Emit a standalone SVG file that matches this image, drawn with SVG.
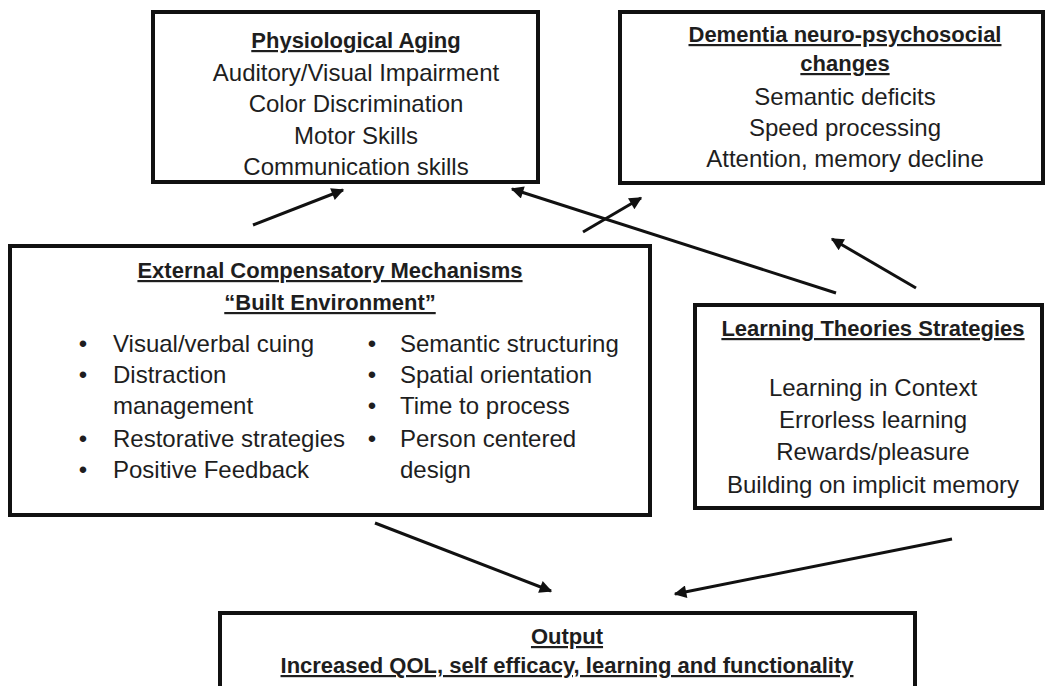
<svg xmlns="http://www.w3.org/2000/svg" width="1046" height="686" viewBox="0 0 1046 686">
<defs>
<style>
.box{fill:#fff;stroke:#111;stroke-width:4}
text{font-family:"Liberation Sans",Arial,sans-serif;font-size:24px;fill:#1e1e1e}
.c{text-anchor:middle}
.h{font-weight:bold;text-decoration:underline;font-size:22px}
.con{stroke:#111;stroke-width:3;fill:none;marker-end:url(#ah)}
</style>
<marker id="ah" viewBox="0 0 10 10" refX="9" refY="5" markerWidth="5" markerHeight="4.2" orient="auto" markerUnits="strokeWidth">
<path d="M0,0 L10,5 L0,10 z" fill="#111"/>
</marker>
</defs>
<rect width="1046" height="686" fill="#fff"/>
<g id="connectors">
<line class="con" x1="253" y1="225" x2="343" y2="190"/>
<line class="con" x1="583" y1="232" x2="641" y2="198"/>
<line class="con" x1="836" y1="293" x2="512" y2="189"/>
<line class="con" x1="916" y1="288" x2="832" y2="239"/>
<line class="con" x1="375" y1="523" x2="551" y2="591"/>
<line class="con" x1="952" y1="539" x2="675" y2="594"/>
</g>
<g id="physiological">
<rect class="box" x="153" y="12" width="385" height="170"/>
<text class="c h" x="356" y="48">Physiological Aging</text>
<text class="c" x="356" y="81">Auditory/Visual Impairment</text>
<text class="c" x="356" y="112">Color Discrimination</text>
<text class="c" x="356" y="144">Motor Skills</text>
<text class="c" x="356" y="175">Communication skills</text>
</g>
<g id="dementia">
<rect class="box" x="620" y="12" width="423" height="171"/>
<text class="c h" x="845" y="42">Dementia neuro-psychosocial</text>
<text class="c h" x="845" y="71">changes</text>
<text class="c" x="845" y="105">Semantic deficits</text>
<text class="c" x="845" y="136">Speed processing</text>
<text class="c" x="845" y="167">Attention, memory decline</text>
</g>
<g id="external">
<rect class="box" x="10" y="246" width="640" height="269"/>
<text class="c h" x="330" y="278">External Compensatory Mechanisms</text>
<text class="c h" x="330" y="310">“Built Environment”</text>
<text x="83" y="352" class="c">•</text><text x="113" y="352">Visual/verbal cuing</text>
<text x="83" y="383" class="c">•</text><text x="113" y="383">Distraction</text>
<text x="113" y="414">management</text>
<text x="83" y="447" class="c">•</text><text x="113" y="447">Restorative strategies</text>
<text x="83" y="478" class="c">•</text><text x="113" y="478">Positive Feedback</text>
<text x="372" y="352" class="c">•</text><text x="400" y="352">Semantic structuring</text>
<text x="372" y="383" class="c">•</text><text x="400" y="383">Spatial orientation</text>
<text x="372" y="414" class="c">•</text><text x="400" y="414">Time to process</text>
<text x="372" y="447" class="c">•</text><text x="400" y="447">Person centered</text>
<text x="400" y="478">design</text>
</g>
<g id="learning">
<rect class="box" x="695" y="305" width="347" height="203"/>
<text class="c h" x="873" y="336">Learning Theories Strategies</text>
<text class="c" x="873" y="396">Learning in Context</text>
<text class="c" x="873" y="428">Errorless learning</text>
<text class="c" x="873" y="460">Rewards/pleasure</text>
<text class="c" x="873" y="493">Building on implicit memory</text>
</g>
<g id="output">
<rect class="box" x="220" y="613" width="695" height="90"/>
<text class="c h" x="567" y="644">Output</text>
<text class="c h" x="567" y="673">Increased QOL, self efficacy, learning and functionality</text>
</g>
</svg>
